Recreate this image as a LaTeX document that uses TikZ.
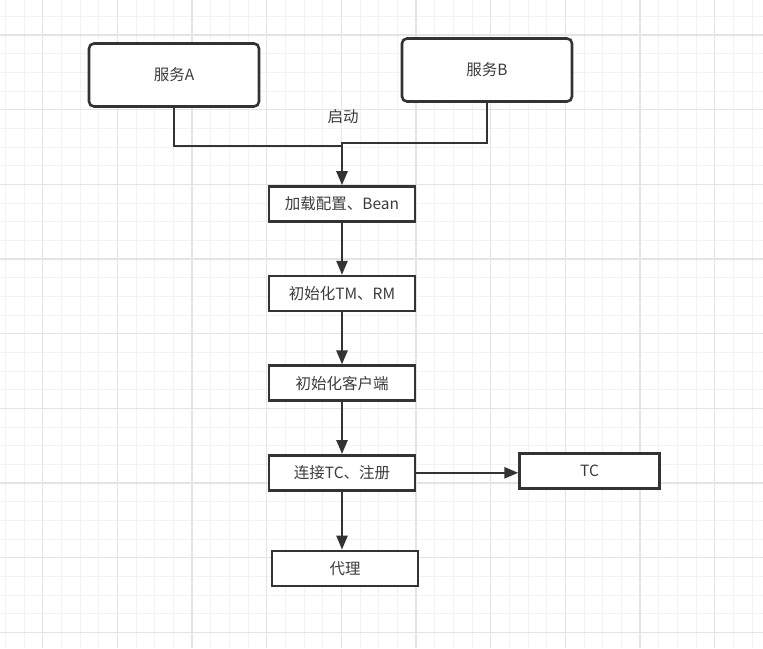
\documentclass[tikz,border=0pt]{standalone}
\usepackage{fontspec}
\setmainfont{Noto Sans CJK SC}
\usetikzlibrary{arrows.meta, positioning}
\definecolor{linegray}{RGB}{51,51,51}
\definecolor{textgray}{RGB}{60,60,60}
\definecolor{gridminor}{RGB}{242,242,242}
\definecolor{gridmajor}{RGB}{228,228,228}
\tikzset{
  % Service block (rounded)
  servicebox/.style={
    rectangle, rounded corners=5pt, draw=linegray, fill=white,
    line width=2.6pt, minimum width=170pt, minimum height=63pt,
    text=textgray, font=\fontsize{15.5}{18}\selectfont
  },
  % Flow step block
  stepbox/.style={
    rectangle, draw=linegray, fill=white, line width=2.6pt,
    minimum width=#1, minimum height=35pt,
    text=textgray, font=\fontsize{15.5}{18}\selectfont
  },
  stepbox/.default=146pt,
  flowline/.style={draw=linegray, line width=2.6pt},
  flowarrow/.style={flowline, -{Triangle[length=14pt, width=11pt]}},
  minorgrid/.style={draw=gridminor, line width=1pt},
  majorgrid/.style={draw=gridmajor, line width=1.2pt}
}
\begin{document}
\begin{tikzpicture}[x=1pt, y=-1pt]
  \useasboundingbox (0,0) rectangle (763,648);
  \fill[white] (0,0) rectangle (763,648);

  % Background grid
  \foreach \i in {0,...,40}
    \draw[minorgrid] ({5.33+18.67*\i},0) -- ({5.33+18.67*\i},648);
  \foreach \i in {0,...,34}
    \draw[minorgrid] (0,{16.33+18.67*\i}) -- (763,{16.33+18.67*\i});
  \foreach \i in {0,...,9}
    \draw[majorgrid] ({42.67+74.67*\i},0) -- ({42.67+74.67*\i},648);
  \foreach \i in {0,...,8}
    \draw[majorgrid] (0,{35+74.67*\i}) -- (763,{35+74.67*\i});

  % Services
  \node[servicebox] (svcA) at (174,75) {服务A};
  \node[servicebox] (svcB) at (487,70) {服务B};

  % Startup chain
  \node[stepbox] (load) at (342,204) {加载配置、Bean};
  \node[stepbox, below=52pt of load] (initRM) {初始化TM、RM};
  \node[stepbox, below=52pt of initRM] (client) {初始化客户端};
  \node[stepbox, below=52pt of client] (link) {连接TC、注册};
  \node[stepbox, below=58pt of link, xshift=3pt] (proxy) {代理};
  \node[stepbox=140pt, right=102pt of link, yshift=2pt] (tc) {TC};

  \coordinate (joinA) at (342,146);
  \coordinate (joinB) at (342,143);
  \node[text=textgray, font=\fontsize{15.5}{18}\selectfont] (start) at (343,117) {启动};

  \draw[flowline] (svcA.south) |- (joinA);
  \draw[flowarrow] (svcB.south) |- (joinB) -- (load.north);
  \draw[flowarrow] (load) -- (initRM);
  \draw[flowarrow] (initRM) -- (client);
  \draw[flowarrow] (client) -- (link);
  \draw[flowarrow] (link.south) -- (link.south |- proxy.north);
  \draw[flowarrow] (link.east) -- (link.east -| tc.west);
\end{tikzpicture}
\end{document}
